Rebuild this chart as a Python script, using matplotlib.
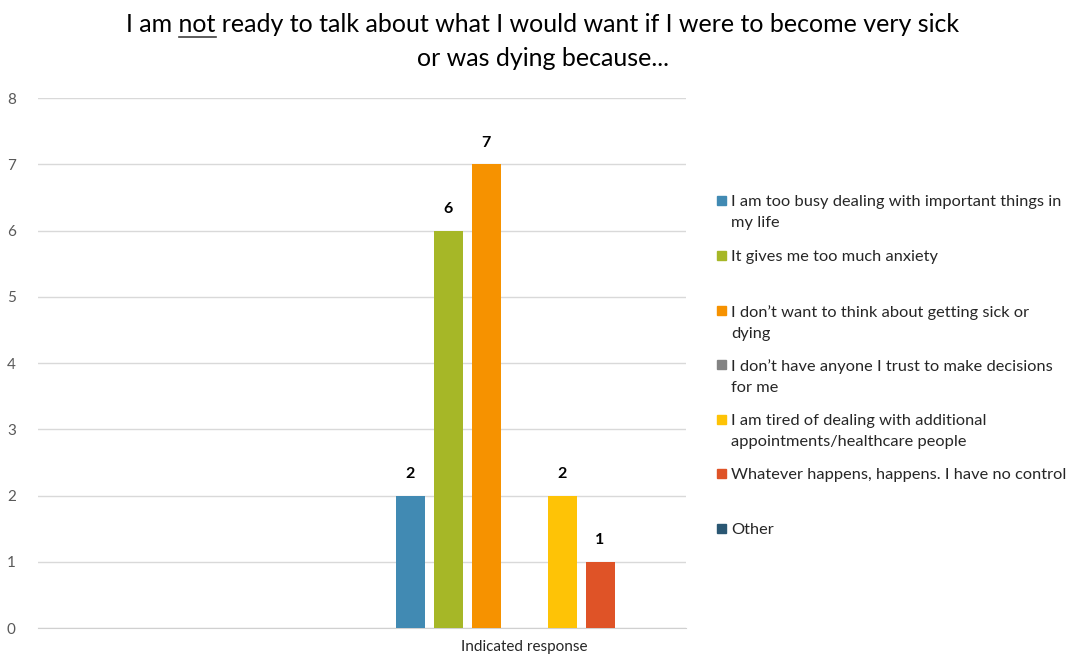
import matplotlib.pyplot as plt
from matplotlib.patches import Rectangle
import numpy as np

plt.rcParams['font.family'] = ['Lato', 'DejaVu Sans']

# --- data ---
categories = ["", "Indicated response"]
series_names = [
    "I am too busy dealing with important things in\nmy life",
    "It gives me too much anxiety",
    "I don\u2019t want to think about getting sick or\ndying",
    "I don\u2019t have anyone I trust to make decisions\nfor me",
    "I am tired of dealing with additional\nappointments/healthcare people",
    "Whatever happens, happens. I have no control",
    "Other",
]
# one value per category, first category is empty
values = [
    [0, 2],
    [0, 6],
    [0, 7],
    [0, 0],
    [0, 2],
    [0, 1],
    [0, 0],
]
colors = ["#418AB3", "#A6B727", "#F69200", "#838383", "#FEC306", "#DF5327", "#2A5773"]

fig = plt.figure(figsize=(10.69, 6.59), dpi=100)
ax = fig.add_axes([38 / 1069, 1 - 628 / 659, (686 - 38) / 1069, (628 - 98) / 659])

x = np.arange(len(categories))
step = 38 / 324
width = 29 / 324
for i, (name, vals) in enumerate(zip(series_names, values)):
    pos = x + (i - 3) * step
    bars = ax.bar(pos, vals, width, color=colors[i], linewidth=0, zorder=3)
    for b, v in zip(bars, vals):
        if v > 0:
            ax.text(b.get_x() + b.get_width() / 2, v + 0.22, str(v),
                    ha="center", va="bottom", fontsize=11.5, fontweight="bold")

ax.set_xlim(-0.5, 1.5)
ax.set_ylim(0, 8)
ax.set_yticks(range(0, 9))
ax.set_xticks(x)
ax.set_xticklabels(categories, fontsize=11.5)
ax.tick_params(axis="both", length=0, colors="#595959", labelsize=11)
ax.tick_params(axis="x", colors="#262626", pad=9)
ax.yaxis.set_tick_params(pad=16)
ax.grid(axis="y", color="#D9D9D9", linewidth=1, zorder=0)
for s in ["top", "right", "left"]:
    ax.spines[s].set_visible(False)
ax.spines["bottom"].set_color("#D0D0D0")

# title with underlined "not"
tx = 543 / 1069
fig.text(tx, 1 - 24 / 659, "I am not ready to talk about what I would want if I were to become very sick",
         ha="center", va="center", fontsize=18)
fig.text(tx, 1 - 59 / 659, "or was dying because...", ha="center", va="center", fontsize=18)
fig.canvas.draw()
renderer = fig.canvas.get_renderer()
# underline under "not": measure prefix widths
full = fig.texts[0]
bb = full.get_window_extent(renderer)
pre = fig.text(0, 0, "I am ", fontsize=18)
word = fig.text(0, 0, "not", fontsize=18)
pw = pre.get_window_extent(renderer).width
ww = word.get_window_extent(renderer).width
pre.remove()
word.remove()
x0 = (bb.x0 + pw) / 1069
x1 = (bb.x0 + pw + ww) / 1069
fig.add_artist(plt.Line2D([x0, x1], [1 - 37 / 659, 1 - 37 / 659], color="#404040", linewidth=1.2))

# legend drawn by hand, square aligned to first line
ys = [200, 255, 310, 364, 419, 473, 528]
for name, c, y in zip(series_names, colors, ys):
    fig.add_artist(Rectangle((717 / 1069, 1 - (y + 5) / 659), 9 / 1069, 9 / 659,
                             color=c, transform=fig.transFigure))
    fig.text(731 / 1069, 1 - (y - 5) / 659, name, ha="left", va="top",
             fontsize=11.8, color="#262626", linespacing=1.62)

fig.savefig("out.png", dpi=100, facecolor="white")
